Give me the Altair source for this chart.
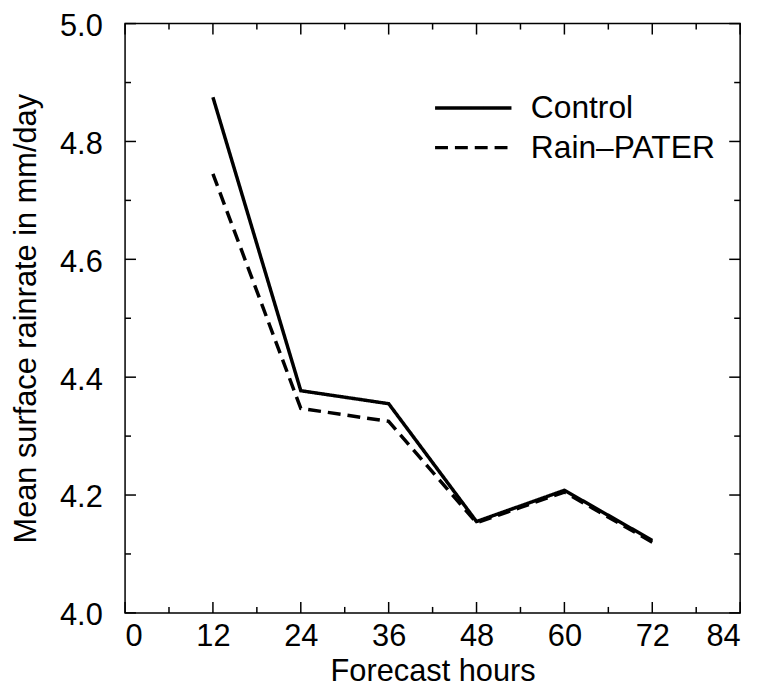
import altair as alt
import pandas as pd

hours = [12, 24, 36, 48, 60, 72]
control = [4.875, 4.377, 4.355, 4.155, 4.208, 4.123]
rain_pater = [4.745, 4.347, 4.325, 4.153, 4.205, 4.120]
series_names = ["Control", "Rain\u2013PATER"]

x_major = [0, 12, 24, 36, 48, 60, 72, 84]
x_minor = [6, 18, 30, 42, 54, 66, 78]
y_major = [4.0, 4.2, 4.4, 4.6, 4.8, 5.0]
y_minor = [4.1, 4.3, 4.5, 4.7, 4.9]

W, H = 620, 594
FONT = "Liberation Sans"
FS = 32
LFS = 31

rows = []
for h, c, r in zip(hours, control, rain_pater):
    rows.append({"hours": h, "rate": c, "series": series_names[0]})
    rows.append({"hours": h, "rate": r, "series": series_names[1]})
df = pd.DataFrame(rows)

xscale = alt.Scale(domain=[0, 84], nice=False, zero=False)
yscale = alt.Scale(domain=[4.0, 5.0], nice=False, zero=False)

xaxis = alt.Axis(values=x_major, format="d", title="Forecast hours",
                 labelFont=FONT, labelFontSize=LFS, labelColor="black",
                 labelBaseline="alphabetic", labelPadding=33,
                 ticks=False, tickSize=0, domain=False, grid=False,
                 titleFont=FONT, titleFontSize=31, titleFontWeight="normal",
                 titleColor="black", titleX=W / 2, titleY=68,
                 titleBaseline="alphabetic", titleAlign="center")
yaxis = alt.Axis(values=y_major, format=".1f",
                 title="Mean surface rainrate in mm/day",
                 labelFont=FONT, labelFontSize=LFS, labelColor="black",
                 labelPadding=23, labelOffset=3,
                 ticks=False, tickSize=0, domain=False, grid=False,
                 titleFont=FONT, titleFontSize=31, titleFontWeight="normal",
                 titleColor="black", titleX=-90, titleY=H / 2,
                 titleAngle=270, titleBaseline="alphabetic",
                 titleAlign="center")

SYM = 25.67
lines = alt.Chart(df).mark_line(color="black", strokeWidth=3.5).encode(
    x=alt.X("hours:Q", scale=xscale, axis=xaxis),
    y=alt.Y("rate:Q", scale=yscale, axis=yaxis),
    strokeDash=alt.StrokeDash(
        "series:N",
        scale=alt.Scale(domain=series_names, range=[[1, 0], [13, 7]]),
        legend=alt.Legend(title=None, orient="none", legendX=335, legendY=69,
                          symbolType="M-3,0H3", symbolSize=SYM * SYM,
                          symbolStrokeWidth=3.5, symbolStrokeColor="black",
                          symbolFillColor="transparent",
                          labelFont=FONT, labelFontSize=FS, labelColor="black",
                          labelLimit=0, labelOffset=42, rowPadding=8,
                          padding=0, offset=0)),
)


def ticks_layer(values, axis, side, length):
    d = pd.DataFrame({"hours": values}) if axis == "x" else pd.DataFrame({"rate": values})
    base = alt.Chart(d).mark_rule(color="black", strokeWidth=1.5)
    if axis == "x":
        enc = {"x": alt.X("hours:Q", scale=xscale, axis=xaxis)}
        if side == "bottom":
            enc.update(y=alt.value(H), y2=alt.value(H - length))
        else:
            enc.update(y=alt.value(0), y2=alt.value(length))
    else:
        enc = {"y": alt.Y("rate:Q", scale=yscale, axis=yaxis)}
        if side == "left":
            enc.update(x=alt.value(0), x2=alt.value(length))
        else:
            enc.update(x=alt.value(W), x2=alt.value(W - length))
    return base.encode(**enc)


tick_layers = []
for side in ["bottom", "top"]:
    tick_layers.append(ticks_layer(x_major, "x", side, 11))
    tick_layers.append(ticks_layer(x_minor, "x", side, 6))
for side in ["left", "right"]:
    tick_layers.append(ticks_layer(y_major, "y", side, 11))
    tick_layers.append(ticks_layer(y_minor, "y", side, 6))

chart = alt.layer(lines, *tick_layers).properties(
    width=W, height=H,
    autosize=alt.AutoSizeParams(type="none"),
    padding={"left": 118, "top": 13, "right": 17, "bottom": 75},
    background="white",
).configure_view(stroke="black", strokeWidth=1.5)

chart.save("out.html", embed_options={"renderer": "svg", "actions": False})
